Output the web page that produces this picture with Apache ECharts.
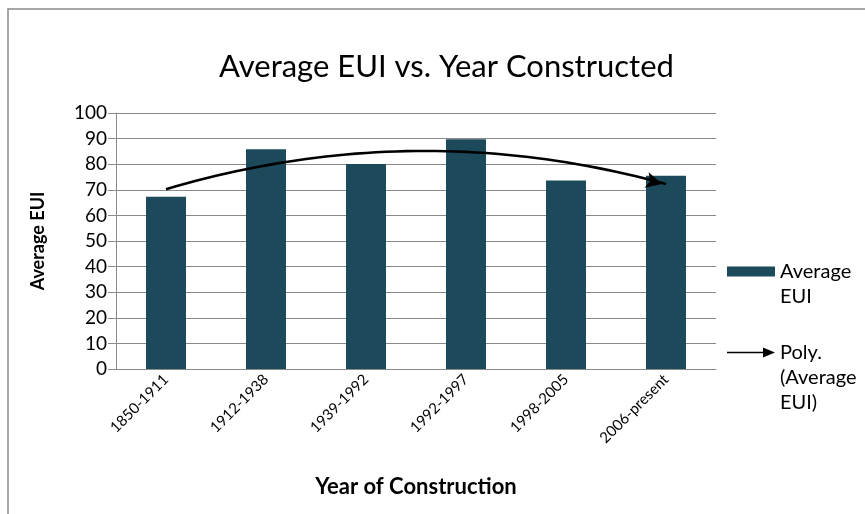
<!DOCTYPE html>
<html>
<head>
<meta charset="utf-8">
<script src="https://cdn.jsdelivr.net/npm/echarts@6/dist/echarts.min.js"></script>
<style>
  html, body { margin: 0; padding: 0; background: #fff; }
  #chart { width: 865px; height: 514px; }
</style>
</head>
<body>
<div id="chart"></div>
<script>
  // values
  var categories = ['1850-1911', '1912-1938', '1939-1992', '1992-1997', '1998-2005', '2006-present'];
  var avgEui = [67.3, 85.8, 80.1, 89.7, 73.6, 75.5];
  var yTicks = { min: 0, max: 100, interval: 10 };

  // 2nd order polynomial trend line (least squares on the bars), like excel's "Poly."
  function polyCoef(ys) {
    var n = ys.length, s = [0, 0, 0, 0, 0], t = [0, 0, 0];
    for (var i = 0; i < n; i++) {
      var x = i + 1;
      for (var k = 0; k < 5; k++) s[k] += Math.pow(x, k);
      for (var k2 = 0; k2 < 3; k2++) t[k2] += Math.pow(x, k2) * ys[i];
    }
    var m = [[s[0], s[1], s[2], t[0]], [s[1], s[2], s[3], t[1]], [s[2], s[3], s[4], t[2]]];
    for (var c = 0; c < 3; c++) {
      for (var r = c + 1; r < 3; r++) {
        var f = m[r][c] / m[c][c];
        for (var j = c; j < 4; j++) m[r][j] -= f * m[c][j];
      }
    }
    var co = [0, 0, 0];
    for (var r2 = 2; r2 >= 0; r2--) {
      var v = m[r2][3];
      for (var j2 = r2 + 1; j2 < 3; j2++) v -= m[r2][j2] * co[j2];
      co[r2] = v / m[r2][r2];
    }
    return co;
  }
  var co = polyCoef(avgEui);
  var trend = [];
  for (var x = 1; x <= avgEui.length + 1e-9; x += 0.1) {
    trend.push([+x.toFixed(2), co[0] + co[1] * x + co[2] * x * x]);
  }

  var font = 'Lato, "Open Sans", sans-serif';
  var gray = '#8a8a8a';

  var chart = echarts.init(document.getElementById('chart'));
  chart.setOption({
    animation: false,
    textStyle: { fontFamily: font, color: '#000' },
    title: {
      text: 'Average EUI vs. Year Constructed',
      left: 214,
      top: 46,
      textStyle: { fontSize: 31, fontWeight: 'normal', color: '#000', fontFamily: font }
    },
    graphic: [{
      type: 'rect',
      shape: { x: 8, y: 9, width: 900, height: 600 },
      style: { fill: 'none', stroke: gray, lineWidth: 1.5 },
      silent: true
    }],
    // two legends so the icon sits next to the first text line, as in excel
    legend: [{
      orient: 'vertical',
      left: 727,
      top: 234,
      padding: 0,
      itemWidth: 48,
      itemHeight: 10,
      textStyle: { fontSize: 20, lineHeight: 25, color: '#000', fontFamily: font },
      formatter: function () { return ' \nAverage\nEUI'; },
      data: [{ name: 'Average EUI', icon: 'rect' }]
    }, {
      orient: 'vertical',
      left: 727,
      top: 290,
      padding: 0,
      itemWidth: 48,
      itemHeight: 10,
      textStyle: { fontSize: 20, lineHeight: 25, color: '#000', fontFamily: font },
      formatter: function () { return ' \n \nPoly.\n(Average\nEUI)'; },
      data: [{ name: 'Poly. (Average EUI)', icon: 'path://M0,4.2 L36,4.2 L36,0 L48,5 L36,10 L36,5.8 L0,5.8 Z' }]
    }],
    grid: { left: 116, right: 149, top: 113, bottom: 145 },
    xAxis: [{
      type: 'category',
      data: categories,
      name: 'Year of Construction',
      nameLocation: 'middle',
      nameGap: 107,
      nameTextStyle: { fontSize: 22, fontWeight: 'bold', color: '#000' },
      axisLine: { lineStyle: { color: gray } },
      axisTick: { length: 8, lineStyle: { color: gray } },
      axisLabel: { rotate: 45, fontSize: 15, color: '#000', margin: 8 }
    }, {
      type: 'value',
      min: 0.5,
      max: categories.length + 0.5,
      show: false
    }],
    yAxis: {
      type: 'value',
      min: yTicks.min,
      max: yTicks.max,
      interval: yTicks.interval,
      name: 'Average EUI',
      nameLocation: 'middle',
      nameGap: 69,
      nameTextStyle: { fontSize: 18, fontWeight: 'bold', color: '#000' },
      axisLine: { show: true, lineStyle: { color: gray } },
      axisTick: { show: true, length: 8, lineStyle: { color: gray } },
      axisLabel: { fontSize: 19, color: '#000', margin: 9 },
      splitLine: { lineStyle: { color: gray, width: 1.2 } }
    },
    series: [
      {
        name: 'Average EUI',
        type: 'bar',
        data: avgEui,
        barWidth: 40,
        itemStyle: { color: '#1d4a5b' }
      },
      {
        name: 'Poly. (Average EUI)',
        type: 'line',
        xAxisIndex: 1,
        data: trend,
        showSymbol: true,
        symbol: function (v, p) { return p.dataIndex === trend.length - 1 ? 'arrow' : 'none'; },
        symbolSize: [12, 16],
        symbolRotate: -105,
        symbolOffset: [-4, 0],
        lineStyle: { color: '#000', width: 2.6 },
        itemStyle: { color: '#000' },
        z: 5
      }
    ]
  });
</script>
</body>
</html>
